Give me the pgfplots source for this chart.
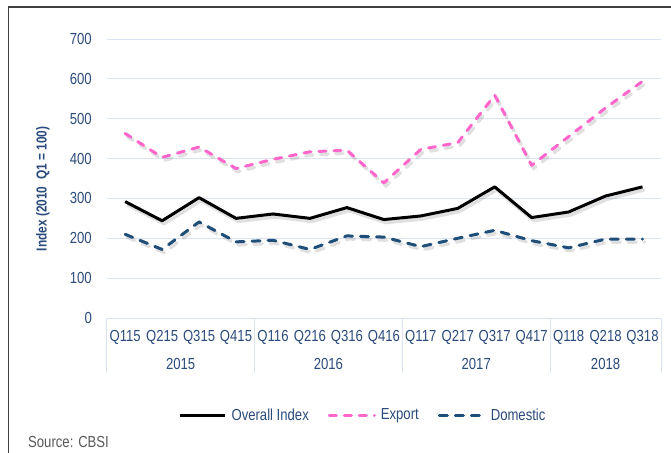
\documentclass[border=0pt]{standalone}
\usepackage{fontspec}
\setmainfont{Liberation Sans}[FakeStretch=0.82]
\usepackage{pgfplots}
\pgfplotsset{compat=1.18}
\definecolor{txt}{HTML}{2B4B7C}
\definecolor{gridc}{HTML}{D9E3F1}
\definecolor{pinkc}{HTML}{FF66CC}
\definecolor{bluec}{HTML}{1F4E79}
\definecolor{framec}{HTML}{404040}
\definecolor{srcc}{HTML}{595959}
\newcommand{\fs}{\fontsize{16bp}{19bp}\selectfont}
\begin{document}
\begin{tikzpicture}
\useasboundingbox (-106.7bp,-135bp) rectangle (564.3bp,318bp);
\fill[white] (-106.7bp,-135bp) rectangle (564.3bp,318bp);
\draw[framec, line width=1.5bp] (-98.2bp,-140bp) -- (-98.2bp,311bp) -- (570bp,311bp);
\begin{axis}[
  at={(0,0)}, anchor=south west,
  scale only axis, width=554.3bp, height=279bp,
  xmin=-0.5, xmax=14.5, ymin=0, ymax=700,
  ytick={0,100,...,700},
  xtick={0,...,14},
  xticklabels={Q115,Q215,Q315,Q415,Q116,Q216,Q316,Q416,Q117,Q217,Q317,Q417,Q118,Q218,Q318},
  axis line style={draw=none},
  major tick length=0pt,
  ymajorgrids, major grid style={gridc, line width=1bp},
  tick label style={font=\fs, text=txt},
  /pgf/number format/assume math mode=true,
  yticklabel style={anchor=east, inner sep=0pt, xshift=-14.7bp},
  xticklabel style={anchor=center, inner sep=0pt, yshift=-19.5bp},
  ylabel={Index (2010~~Q1 = 100)},
  every axis y label/.style={at={(axis description cs:-0.115,0.4624)}, rotate=90, anchor=center, font=\fontsize{14.5bp}{17bp}\selectfont\bfseries, text=txt},
  clip=false,
  legend columns=3,
  legend style={draw=none, fill=none, inner sep=0pt, at={(axis description cs:0.4606,-0.3477)}, anchor=center, font=\fs, text=txt,
    nodes={inner sep=0pt},
    /tikz/every odd column/.append style={column sep=5bp},
    /tikz/every even column/.append style={column sep=19bp}},
  legend cell align=left,
  legend image code/.code={\draw[#1] (0bp,0bp) -- (45bp,0bp);},
]
% shadows
\addplot[forget plot, black, opacity=0.12, line width=3.5bp, line join=round, shift={(2bp,-3bp)}] coordinates {
(0,292)(1,244)(2,302)(3,250)(4,261)(5,250)(6,277)(7,247)(8,256)(9,275)(10,329)(11,252)(12,266)(13,306)(14,329)};
\addplot[forget plot, black, opacity=0.12, line width=3.5bp, line cap=round, dash pattern=on 7bp off 8bp, shift={(2bp,-3bp)}] coordinates {
(0,463)(1,403)(2,429)(3,375)(4,398)(5,417)(6,421)(7,339)(8,423)(9,440)(10,559)(11,383)(12,455)(13,527)(14,594)};
\addplot[forget plot, black, opacity=0.12, line width=3.5bp, line cap=round, dash pattern=on 8bp off 8bp, shift={(2bp,-3bp)}] coordinates {
(0,210)(1,172)(2,241)(3,191)(4,195)(5,172)(6,206)(7,203)(8,179)(9,200)(10,220)(11,194)(12,176)(13,198)(14,198)};
% series
\addplot[black, line width=3bp, line join=round] coordinates {
(0,292)(1,244)(2,302)(3,250)(4,261)(5,250)(6,277)(7,247)(8,256)(9,275)(10,329)(11,252)(12,266)(13,306)(14,329)};
\addlegendentry{Overall Index}
\addplot[pinkc, line width=3bp, line cap=round, line join=round, dash pattern=on 7bp off 8bp] coordinates {
(0,463)(1,403)(2,429)(3,375)(4,398)(5,417)(6,421)(7,339)(8,423)(9,440)(10,559)(11,383)(12,455)(13,527)(14,594)};
\addlegendentry{Export}
\addplot[bluec, line width=3bp, line cap=round, line join=round, dash pattern=on 8bp off 8bp] coordinates {
(0,210)(1,172)(2,241)(3,191)(4,195)(5,172)(6,206)(7,203)(8,179)(9,200)(10,220)(11,194)(12,176)(13,198)(14,198)};
\addlegendentry{Domestic}
% category separators and year labels
\draw[gridc, line width=1bp] (axis cs:-0.5,0) -- ++(0bp,-55bp);
\draw[gridc, line width=1bp] (axis cs:3.5,0) -- ++(0bp,-55bp);
\draw[gridc, line width=1bp] (axis cs:7.5,0) -- ++(0bp,-55bp);
\draw[gridc, line width=1bp] (axis cs:11.5,0) -- ++(0bp,-55bp);
\draw[gridc, line width=1bp] (axis cs:14.5,0) -- ++(0bp,-55bp);
\node[font=\fs, text=txt, yshift=-46bp] at (axis cs:1.5,0) {2015};
\node[font=\fs, text=txt, yshift=-46bp] at (axis cs:5.5,0) {2016};
\node[font=\fs, text=txt, yshift=-46bp] at (axis cs:9.5,0) {2017};
\node[font=\fs, text=txt, yshift=-46bp] at (axis cs:13,0) {2018};
\end{axis}
\node[anchor=west, font=\fs, text=srcc, inner sep=0pt] at (-78.7bp,-124bp) {Source: CBSI};
\end{tikzpicture}
\end{document}
